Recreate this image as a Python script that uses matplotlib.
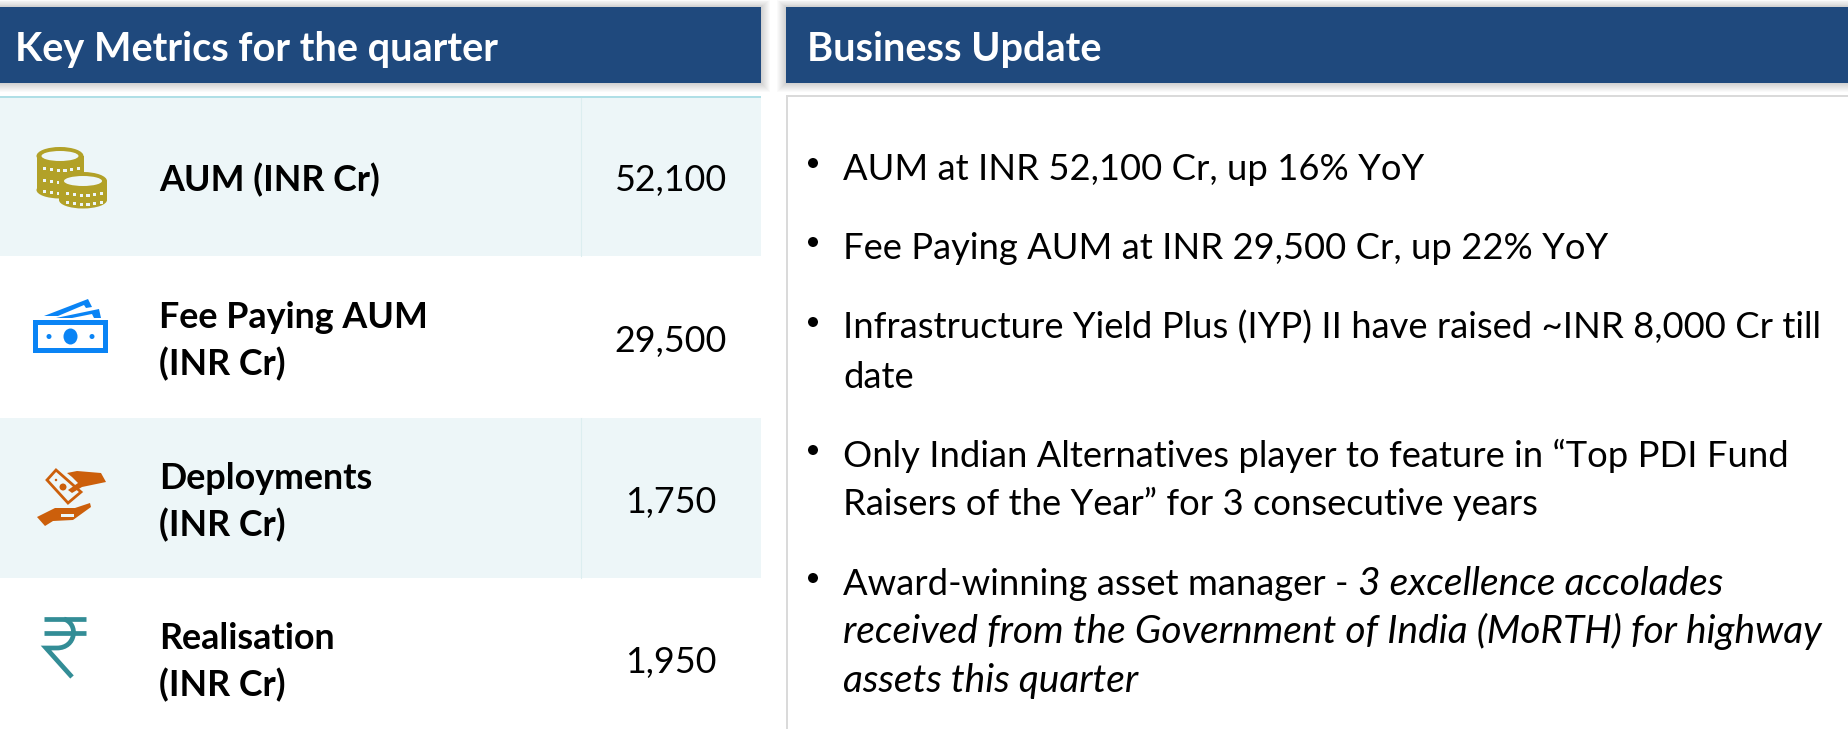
import matplotlib
matplotlib.use('Agg')
import matplotlib.pyplot as plt
from matplotlib.patches import Rectangle, Ellipse, Polygon, PathPatch
from matplotlib.path import Path

plt.rcParams['font.family'] = ['Lato', 'DejaVu Sans']

NAVY = '#1F497D'
ROW = '#EDF6F8'
TEAL_LINE = '#B0DFE6'

left_title = 'Key Metrics for the quarter'
right_title = 'Business Update'

metric_names = ['AUM (INR Cr)', 'Fee Paying AUM\n(INR Cr)', 'Deployments\n(INR Cr)', 'Realisation\n(INR Cr)']
metric_values = ['52,100', '29,500', '1,750', '1,950']
row_tops = [97, 256, 418, 578]
row_bottoms = [256, 418, 578, 729]
row_text_y = [180, 341, 502, 662]

# (line text, italic part on the same line, starts a bullet)
update_lines = [
    ('AUM at INR 52,100 Cr, up 16% YoY', '', True),
    ('Fee Paying AUM at INR 29,500 Cr, up 22% YoY', '', True),
    ('Infrastructure Yield Plus (IYP) II have raised ~INR 8,000 Cr till', '', True),
    ('date', '', False),
    ('Only Indian Alternatives player to feature in “Top PDI Fund', '', True),
    ('Raisers of the Year” for 3 consecutive years', '', False),
    ('Award-winning asset manager - ', '3 excellence accolades', True),
    ('', 'received from the Government of India (MoRTH) for highway', False),
    ('', 'assets this quarter', False),
]
update_y = [167, 246, 326, 375, 454, 502, 582, 630, 679]

fig = plt.figure(figsize=(18.48, 7.29), dpi=100)
ax = fig.add_axes([0, 0, 1, 1])
ax.set_xlim(0, 1848)
ax.set_ylim(729, 0)
ax.axis('off')


def rect(x0, y0, x1, y1, **kw):
    ax.add_patch(Rectangle((x0, y0), x1 - x0, y1 - y0, linewidth=0, **kw))


def header(x0, x1, title, tx):
    # soft shadow round the bar
    for g in range(9, 0, -1):
        rect(x0 - g, 7 - g * 0.8, x1 + g, 83 + g, facecolor='k', alpha=0.02)
    rect(x0, 7, x1, 83, facecolor=NAVY)
    ax.text(tx, 46, title, color='white', fontsize=28.5, fontweight='bold', va='center_baseline')


def coins():
    c = '#B2A128'
    for cx, cy, w, bottom, rows in [(60, 156, 47, 198, [167, 179, 190]), (83, 181, 48, 208, [192, 201])]:
        rect(cx - w / 2, cy, cx + w / 2, bottom - 8, facecolor=c)
        ax.add_patch(Ellipse((cx, bottom - 8), w, 17, facecolor=c, linewidth=0))
        ax.add_patch(Ellipse((cx, cy), w, 18, facecolor=c, linewidth=0))
        ax.add_patch(Ellipse((cx, cy), w - 10, 10, facecolor=ROW, linewidth=0))
        for ry in rows:
            for i in range(6):
                dx = -17 + i * 6.8
                sag = 2 - abs(i - 2.5) * 0.8
                rect(cx + dx, ry + sag, cx + dx + 3.2, ry + sag + 3.2, facecolor=ROW)


def bill():
    c = '#0A84F5'
    rect(33, 320, 108, 352.5, facecolor=c)
    rect(38, 325, 103, 347.5, facecolor='white')
    ax.add_patch(Ellipse((70.5, 336.5), 14, 16, facecolor=c, linewidth=0))
    ax.add_patch(Ellipse((49, 336.5), 5, 5, facecolor=c, linewidth=0))
    ax.add_patch(Ellipse((92, 336.5), 5, 5, facecolor=c, linewidth=0))
    ax.add_patch(Polygon([(44, 316), (88, 299), (92, 307), (86, 308), (84, 305), (58, 316)], facecolor=c, linewidth=0))
    ax.add_patch(Polygon([(56, 318), (99, 309), (101, 318), (94, 318), (92, 314), (72, 318)], facecolor=c, linewidth=0))


def hands():
    c = '#CC5F0B'
    ax.add_patch(Polygon([(47, 480), (56, 470), (81, 492), (68, 503)], facecolor='none', edgecolor=c, linewidth=2))
    ax.add_patch(Ellipse((63, 487), 7, 7, facecolor=c, linewidth=0))
    ax.add_patch(Ellipse((56, 480), 2.5, 2.5, facecolor=c, linewidth=0))
    ax.add_patch(Polygon([(67, 473), (77, 471), (101, 473), (106, 482), (82, 487), (72, 493), (68, 490), (78, 483), (72, 477)], facecolor=c, linewidth=0))
    ax.add_patch(Polygon([(37, 517), (55, 508), (75, 508), (90, 503), (91, 507), (73, 520), (53, 521), (45, 526)], facecolor=c, linewidth=0))
    rect(61, 514, 74, 516.5, facecolor=ROW)


def rupee():
    c = '#338D96'
    ax.plot([44, 86], [619, 619], color=c, lw=3.4, solid_capstyle='butt')
    ax.plot([44, 86], [633, 633], color=c, lw=3.4, solid_capstyle='butt')
    verts = [(64, 619), (79, 624), (76, 648), (57, 648), (46, 648), (72, 677)]
    codes = [Path.MOVETO, Path.CURVE4, Path.CURVE4, Path.CURVE4, Path.LINETO, Path.LINETO]
    ax.add_patch(PathPatch(Path(verts, codes), facecolor='none', edgecolor=c, lw=3.4, joinstyle='miter'))


# left table
header(0, 761, left_title, 15)
for i, (t, b) in enumerate(zip(row_tops, row_bottoms)):
    if i % 2 == 0 and i < 3:
        rect(0, t, 761, b, facecolor=ROW)
        ax.plot([580.5, 580.5], [max(t, 98), b], color='#DCEEF0', lw=0.8)
    ax.text(159, row_text_y[i], metric_names[i], fontsize=25.8, fontweight='bold', color='black',
            va='center', linespacing=1.47)
    ax.text(671, row_text_y[i], metric_values[i], fontsize=25.8, color='black', ha='center', va='center')
rect(0, 96, 761, 98, facecolor=TEAL_LINE)
coins()
bill()
hands()
rupee()

# right panel
header(786, 1848, right_title, 807)
rect(786, 95, 1848, 97, facecolor='#DADADA')
rect(786, 95, 788, 729, facecolor='#DADADA')

renderer = fig.canvas.get_renderer()
for (reg, ital, bullet), y in zip(update_lines, update_y):
    x = 843
    if bullet:
        ax.add_patch(Ellipse((813, y - 4), 10, 10, facecolor='black', linewidth=0))
    if reg:
        ax.text(x, y + 13, reg, fontsize=26.2, color='black', va='baseline')
        # measure with a closing letter so the trailing space counts
        m = ax.text(x, y + 13, reg.rstrip() + ' |', fontsize=26.2, alpha=0)
        m2 = ax.text(x, y + 13, '|', fontsize=26.2, alpha=0)
        x = m.get_window_extent(renderer).x1 - m2.get_window_extent(renderer).width
        m.remove()
        m2.remove()
    if ital:
        ax.text(x, y + 13, ital, fontsize=28, style='italic', color='black', va='baseline')

fig.savefig('out.png', dpi=100, facecolor='white')
